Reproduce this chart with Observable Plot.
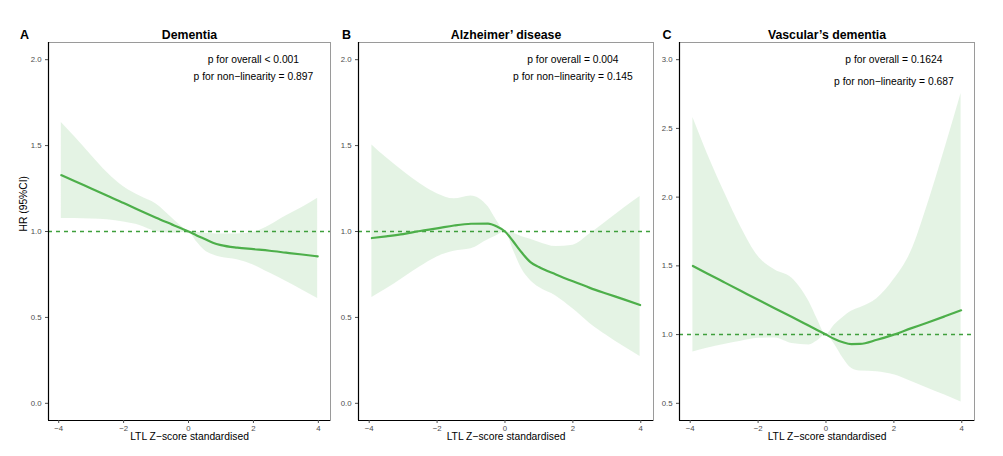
<!DOCTYPE html>
<html>
<head>
<meta charset="utf-8">
<script src="https://cdn.jsdelivr.net/npm/d3@7"></script>
<script src="https://cdn.jsdelivr.net/npm/@observablehq/plot@0.6"></script>
<style>
  html, body { margin: 0; padding: 0; background: white; }
  #wrap { position: relative; width: 1003px; height: 456px; overflow: hidden; }
  #wrap > div { position: absolute; top: 0; }
</style>
</head>
<body>
<div id="wrap">
  <div id="pA"></div>
  <div id="pB"></div>
  <div id="pC"></div>
</div>
<script>
// ---- data ----
const xs = [-3.92, -3.5, -3, -2.5, -2, -1.5, -1, -0.5, -0.25, 0, 0.25, 0.5, 0.75, 1, 1.5, 2, 2.5, 3, 3.5, 3.98];

// A: Dementia
const hrA = [1.328, 1.293, 1.250, 1.208, 1.166, 1.122, 1.080, 1.040, 1.020, 1.000, 0.977, 0.956, 0.935, 0.921, 0.906, 0.897, 0.888, 0.877, 0.866, 0.855];
const upA = [1.634, 1.550, 1.444, 1.342, 1.260, 1.206, 1.160, 1.077, 1.035, 1.000, 0.995, 0.990, 0.987, 0.985, 0.985, 0.995, 1.035, 1.090, 1.140, 1.194];
const loA = [1.076, 1.075, 1.073, 1.068, 1.055, 1.035, 1.000, 0.990, 0.993, 1.000, 0.940, 0.890, 0.865, 0.850, 0.835, 0.805, 0.758, 0.710, 0.660, 0.610];

// B: Alzheimer' disease
const hrB = [0.962, 0.972, 0.985, 1.003, 1.018, 1.035, 1.045, 1.046, 1.030, 1.000, 0.940, 0.876, 0.822, 0.793, 0.750, 0.710, 0.672, 0.638, 0.605, 0.572];
const upB = [1.504, 1.430, 1.350, 1.278, 1.220, 1.190, 1.207, 1.145, 1.065, 1.000, 0.990, 0.970, 0.955, 0.937, 0.912, 0.920, 0.985, 1.060, 1.135, 1.203];
const loB = [0.616, 0.665, 0.730, 0.795, 0.852, 0.885, 0.899, 0.952, 0.975, 1.000, 0.890, 0.780, 0.715, 0.675, 0.625, 0.550, 0.465, 0.395, 0.330, 0.272];

// C: Vascular's dementia
const hrC = [1.499, 1.445, 1.381, 1.317, 1.253, 1.190, 1.128, 1.064, 1.032, 1.000, 0.968, 0.944, 0.931, 0.932, 0.962, 1.000, 1.045, 1.088, 1.133, 1.177];
const upC = [2.579, 2.320, 2.040, 1.780, 1.570, 1.470, 1.410, 1.240, 1.110, 1.000, 1.070, 1.125, 1.170, 1.195, 1.260, 1.400, 1.600, 1.950, 2.350, 2.754];
const loC = [0.873, 0.900, 0.928, 0.952, 0.973, 0.975, 0.935, 0.925, 0.955, 1.000, 0.930, 0.830, 0.755, 0.735, 0.730, 0.707, 0.660, 0.610, 0.560, 0.510];

const xTicks = [-4, -2, 0, 2, 4];
const yTicksAB = [0, 0.5, 1, 1.5, 2];
const yTicksC = [0.5, 1, 1.5, 2, 2.5, 3];

const titles = ["Dementia", "Alzheimer’ disease", "Vascular’s dementia"];
const letters = ["A", "B", "C"];
const annA = ["p for overall < 0.001", "p for non−linearity = 0.897"];
const annB = ["p for overall = 0.004", "p for non−linearity = 0.145"];
const annC = ["p for overall = 0.1624", "p for non−linearity = 0.687"];
const annYA = [2.0, 1.9];
const annYB = [2.0, 1.9];
const annYC = [3.0, 2.84];
const annX = 2;

// ---- drawing ----
const GREEN = "#4DAF4A";
const DASH = "#3f9f3c";
const FONT = "'Liberation Sans', Arial, Helvetica, sans-serif";
const xDomain = [-4.315, 4.375];

function panel(cfg) {
  const rows = xs.map((x, i) => ({x, hr: cfg.hr[i], lo: cfg.lo[i], hi: cfg.hi[i]}));
  const marks = [
    Plot.areaY(rows, {x: "x", y1: "lo", y2: "hi", fill: GREEN, fillOpacity: 0.15, curve: "monotone-x"}),
    Plot.ruleY([1], {stroke: DASH, strokeWidth: 1.5, strokeDasharray: "4,4"}),
    Plot.line(rows, {x: "x", y: "hr", stroke: GREEN, strokeWidth: 2.2, curve: "monotone-x"}),
    Plot.frame({stroke: "#9a9a9a", strokeWidth: 1}),
    Plot.ruleX([xDomain[0]], {stroke: "black", strokeWidth: 1.2}),
    Plot.ruleY([cfg.yDomain[0]], {stroke: "black", strokeWidth: 1.2}),
    Plot.axisX({ticks: xTicks, tickSize: 3, tickPadding: 1.5, label: null, color: "#4d4d4d", fontSize: 7.8}),
    Plot.axisY({ticks: cfg.yTicks, tickSize: 3, tickPadding: 4, label: null, color: "#4d4d4d", fontSize: 7.8,
                tickFormat: d => d.toFixed(1)}),
    Plot.text(cfg.ann, {x: () => annX, y: (d, i) => cfg.annY[i], text: d => d, fontSize: 10.3, fill: "black", textAnchor: "middle"}),
    Plot.text([cfg.title], {frameAnchor: "top", dy: -12, fontSize: 12.3, fontWeight: "bold", fill: "black"}),
    Plot.text([cfg.letter], {frameAnchor: "top-left", dx: cfg.letterDx, dy: -12, fontSize: 12.5, fontWeight: "bold", fill: "black", textAnchor: "middle"}),
    Plot.text(["LTL Z−score standardised"], {frameAnchor: "bottom", dy: 19.5, fontSize: 10.3, fill: "black"})
  ];
  if (cfg.yTitle) {
    marks.push(Plot.text([cfg.yTitle], {frameAnchor: "left", dx: -24.5, rotate: -90, fontSize: 10.3, fill: "black"}));
  }
  const svg = Plot.plot({
    width: cfg.width,
    height: 456,
    marginLeft: cfg.mL,
    marginRight: cfg.mR,
    marginTop: 42,
    marginBottom: 36,
    style: {fontFamily: FONT, fontSize: "7.8px", background: "transparent", color: "black", overflow: "visible"},
    x: {domain: xDomain},
    y: {domain: cfg.yDomain},
    marks
  });
  const host = document.getElementById(cfg.id);
  host.style.left = cfg.left + "px";
  host.appendChild(svg);
}

panel({id: "pA", left: 0, width: 334, mL: 48, mR: 4, hr: hrA, lo: loA, hi: upA,
       yDomain: [-0.1, 2.1], yTicks: yTicksAB, ann: annA, annY: annYA,
       title: titles[0], letter: letters[0], letterDx: -24, yTitle: "HR (95%CI)"});
panel({id: "pB", left: 334, width: 321, mL: 24, mR: 2, hr: hrB, lo: loB, hi: upB,
       yDomain: [-0.1, 2.1], yTicks: yTicksAB, ann: annB, annY: annYB,
       title: titles[1], letter: letters[1], letterDx: -12});
panel({id: "pC", left: 655, width: 348, mL: 24, mR: 29, hr: hrC, lo: loC, hi: upC,
       yDomain: [0.375, 3.125], yTicks: yTicksC, ann: annC, annY: annYC,
       title: titles[2], letter: letters[2], letterDx: -12.5});
</script>
</body>
</html>
